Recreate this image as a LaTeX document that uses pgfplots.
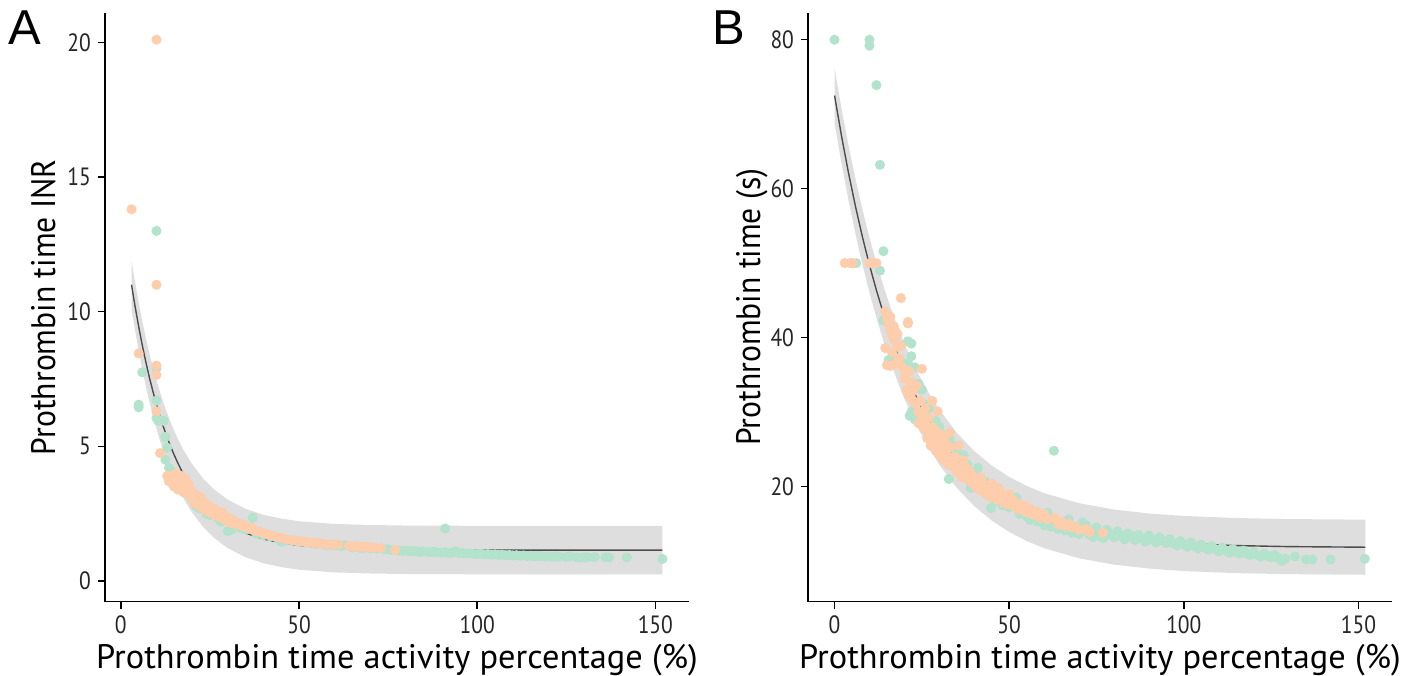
\documentclass[border=0pt]{standalone}
\usepackage{pgfplots}
\pgfplotsset{compat=1.18}
\usepackage{fontspec}
\setmainfont{PT Sans}[FakeStretch=0.86]
\newfontfamily\xtitlefont{PT Sans}[FakeStretch=1.01]
\newfontfamily\ytitlefont{PT Sans}[FakeStretch=0.93]
\newfontfamily\panelfont{Liberation Sans}
\definecolor{ptgreen}{HTML}{B3E2CD}
\definecolor{ptpeach}{HTML}{FDCDAC}
\definecolor{bandgray}{HTML}{DEDEDE}
\definecolor{fitline}{HTML}{4D4D4D}
\pgfplotsset{
  myaxis/.style={
    scale only axis, width=292pt, height=294.25pt,
    axis x line*=bottom, axis y line*=left,
    axis line style={line width=0.7pt, black},
    tick style={line width=0.7pt, black},
    tick align=outside, major tick length=3.5pt,
    xtick={0,50,100,150},
    xmin=-4.45, xmax=159.45,
    ticklabel style={font=\fontsize{12.5}{14}\selectfont, text=black!85},
    /pgf/number format/assume math mode=true,
    xlabel={Prothrombin time activity percentage (\%)},
    every axis x label/.style={at={(axis description cs:0.5,-0.113)}, anchor=base, font=\xtitlefont\fontsize{17}{20}\selectfont},
  },
  ptsg/.style={only marks, mark=*, mark size=2.3pt, color=ptgreen},
  ptsp/.style={only marks, mark=*, mark size=2.3pt, color=ptpeach},
}
\begin{document}
\begin{tikzpicture}
\path[use as bounding box] (0,0) rectangle (709.5pt,337.5pt);
% ---------------- Panel A ----------------
\begin{axis}[myaxis, at={(52.5pt,36.75pt)}, anchor=south west,
  ymin=-0.76, ymax=21.09, ytick={0,5,10,15,20},
  ylabel={Prothrombin time INR},
  every axis y label/.style={at={(axis description cs:-0.0856,0.5)}, rotate=90, anchor=base, font=\ytitlefont\fontsize{17}{20}\selectfont}]
\addplot[fill=bandgray, draw=none] coordinates {
(3,11.90)(4,11.09)(5,10.35)(6,9.66)(7,9.04)(8,8.46)(9,7.94)(10,7.45)(11,7.01)(12,6.60)(13,6.23)(14,5.88)(15,5.57)(16,5.28)(17,5.01)(18,4.77)(20,4.34)(23,3.82)(26,3.42)(30,3.02)(35,2.68)(40,2.46)(45,2.32)(50,2.22)(60,2.12)(70,2.08)(80,2.06)(100,2.05)(152,2.05)
(152,0.25)(100,0.25)(80,0.26)(70,0.28)(60,0.32)(50,0.42)(45,0.52)(40,0.66)(35,0.88)(30,1.22)(26,1.62)(23,2.02)(20,2.54)(18,2.97)(17,3.21)(16,3.48)(15,3.77)(14,4.08)(13,4.43)(12,4.80)(11,5.21)(10,5.65)(9,6.14)(8,6.66)(7,7.24)(6,7.86)(5,8.55)(4,9.29)(3,10.10)};
\addplot[fitline, line width=0.7pt] coordinates {
(3,11.00)(4,10.19)(5,9.45)(6,8.76)(7,8.14)(8,7.56)(9,7.04)(10,6.55)(11,6.11)(12,5.70)(13,5.33)(14,4.98)(15,4.67)(16,4.38)(17,4.11)(18,3.87)(20,3.44)(23,2.92)(26,2.52)(30,2.12)(35,1.78)(40,1.56)(45,1.42)(50,1.32)(60,1.22)(70,1.18)(80,1.16)(100,1.15)(152,1.15)};
\addplot[ptsg] coordinates {
(10,13.0)(6,7.75)(10,7.9)(5,6.55)(5,6.45)(10,6.7)(10,6.05)(10.5,5.95)(12,5.95)(12.5,5.35)(13,4.95)(12.5,4.5)(13.5,4.2)(14,4.1)(15,3.9)(18,3.5)(20,3.05)(21,2.8)(22,2.7)(24,2.5)(25,2.45)(27,2.35)(28,2.2)(30,1.85)(31,1.9)(32,2.0)(34,1.95)(35,1.9)(37,2.35)(38,1.75)(40,1.7)(42,1.65)(44,1.58)(45,1.45)(46,1.48)(48,1.5)(50,1.45)(52,1.43)(54,1.4)(55,1.38)(57,1.36)(58,1.33)(60,1.32)(62,1.3)(63,1.33)(65,1.25)(67,1.24)(68,1.22)(70,1.21)(72,1.2)(74,1.17)(75,1.19)(76,1.15)(78,1.14)(79,1.12)(80,1.13)(81,1.1)(82,1.12)(83,1.1)(84,1.08)(85,1.1)(86,1.08)(87,1.07)(88,1.08)(89,1.06)(90,1.05)(91,1.95)(91,1.07)(92,1.04)(93,1.05)(94,1.1)(95,1.03)(96,1.04)(97,1.02)(98,1.03)(99,1.01)(100,1.0)(101,1.02)(102,0.99)(103,1.0)(104,0.98)(105,0.99)(106,0.97)(107,0.98)(108,0.96)(109,0.97)(110,0.95)(111,0.96)(112,0.94)(113,0.95)(114,0.93)(115,0.94)(116,0.92)(117,0.93)(118,0.92)(119,0.91)(120,0.92)(121,0.9)(122,0.91)(123,0.9)(125,0.9)(126,0.91)(128,0.88)(129,0.87)(130,0.88)(131,0.88)(133,0.89)(136,0.88)(137,0.88)(142,0.88)(152,0.82)};
\addplot[ptsp] coordinates {
(10,20.1)(3,13.8)(10,11.0)(5,8.45)(10,8.0)(10,7.65)(10,6.3)(11,4.75)
(13,3.9)(13.5,3.7)(14,3.9)(14.5,3.6)(15,3.8)(15,3.5)(15.5,4.0)(16,3.7)(16,3.4)(16.5,3.6)(17,3.9)(17,3.5)(17.5,3.3)(18,3.8)(18,3.45)(18.5,3.3)(19,3.6)(19,3.2)(19.5,3.4)(20,3.1)(20,3.3)(20.5,2.9)(21,3.2)(21,3.0)(21.5,2.85)(22,3.05)(22,2.8)(22.5,3.1)(23,2.9)(23,2.7)(23.5,2.75)(24,2.6)(24,2.85)(24.5,2.7)(25,2.55)(25,2.75)(25.5,2.6)(26,2.5)(26,2.7)(26.5,2.45)(27,2.6)(27,2.4)(28,2.5)(28,2.35)(28.5,2.55)(29,2.4)(29.5,2.3)(30,2.35)(30,2.2)(31,2.3)(31,2.15)(32,2.2)(32.5,2.1)(33,2.15)(34,2.05)(34.5,2.1)(35,2.0)(36,1.95)(36.5,2.0)(37,1.9)(38,1.85)(39,1.83)(40,1.78)(41,1.74)(42,1.7)(43,1.67)(44,1.64)(45,1.6)(46,1.57)(47,1.54)(48,1.52)(49,1.5)(50,1.48)(51,1.47)(52,1.45)(53,1.44)(54,1.42)(55,1.41)(56,1.4)(57,1.38)(58,1.37)(59,1.36)(60,1.35)(61,1.36)(64,1.3)(65,1.28)(66,1.3)(67,1.27)(68,1.26)(69,1.27)(70,1.25)(71,1.24)(73,1.22)(77,1.15)};
\end{axis}
% ---------------- Panel B ----------------
\begin{axis}[myaxis, at={(404pt,36.75pt)}, anchor=south west,
  xmin=-7.6, xmax=159.6,
  ymin=4.56, ymax=83.59, ytick={20,40,60,80},
  ylabel={Prothrombin time (s)},
  every axis y label/.style={at={(axis description cs:-0.082,0.5)}, rotate=90, anchor=base, font=\ytitlefont\fontsize{17}{20}\selectfont}]
\addplot[fill=bandgray, draw=none] coordinates {
(0,76.20)(2,70.76)(4,65.80)(6,61.29)(8,57.18)(10,53.44)(12,50.03)(14,46.94)(16,44.11)(18,41.55)(20,39.21)(22,37.09)(24,35.15)(27,32.56)(30,30.32)(35,27.21)(40,24.76)(45,22.82)(50,21.29)(55,20.08)(60,19.12)(70,17.76)(80,16.91)(90,16.38)(100,16.05)(115,15.77)(130,15.63)(152,15.55)
(152,8.15)(130,8.23)(115,8.37)(100,8.65)(90,8.98)(80,9.51)(70,10.36)(60,11.72)(55,12.68)(50,13.89)(45,15.42)(40,17.36)(35,19.81)(30,22.92)(27,25.16)(24,27.75)(22,29.69)(20,31.81)(18,34.15)(16,36.71)(14,39.54)(12,42.63)(10,46.04)(8,49.78)(6,53.89)(4,58.40)(2,63.36)(0,68.80)};
\addplot[fitline, line width=0.7pt] coordinates {
(0,72.50)(2,67.06)(4,62.10)(6,57.59)(8,53.48)(10,49.74)(12,46.33)(14,43.24)(16,40.41)(18,37.85)(20,35.51)(22,33.39)(24,31.45)(27,28.86)(30,26.62)(35,23.51)(40,21.06)(45,19.12)(50,17.59)(55,16.38)(60,15.42)(70,14.06)(80,13.21)(90,12.68)(100,12.35)(115,12.07)(130,11.93)(152,11.85)};
\addplot[ptsg] coordinates {
(0,80)(10,80)(10,79.2)(12,73.9)(13,63.2)(14,51.6)(13,49)(6.2,50)(62.8,24.8)
(14,42.3)(15.5,37)(17,37.5)(19,36.8)(21,39.5)(22,39.2)(22,37.5)(21,36.5)(23,36)(24,33.8)(25,33)(22,30)(21.5,29.5)(23,29)(26,31)(27,30.5)(28,28)(29,28.8)(30,28)(31,27)(32,24.5)(32.7,21.0)(33,26.5)(34,25.5)(35,24.8)(36,23.8)(37,24.2)(38,23)(39,19.8)(40,21.8)(41,22.5)(42,19.5)(43,20.7)(44,18.8)(44.8,17.1)(46,18)(47,19.5)(48,17.5)(50,17.2)(52,18.5)(53,16.3)(55,16)(56,15.5)(58,15.3)(60,14.8)(61,16.5)(62,14.6)(63,15.5)(64,14.3)(66,14.1)(67,15.6)(68,13.8)(70,13.6)(71,15.2)(72,14.8)(73,13.5)(74,13.2)(75,14.5)(76,13.3)(77,13.1)(78,14.2)(79,13.6)(80,13.2)(81,14.0)(82,13.4)(83,12.9)(84,13.7)(85,13.3)(86,12.8)(87,13.5)(88,13.0)(89,12.6)(90,13.4)(91,12.9)(92,12.5)(93,13.2)(94,12.7)(95,12.4)(96,12.9)(97,12.4)(98,12.1)(99,12.7)(100,12.2)(101,11.9)(102,12.5)(103,12.0)(104,11.7)(105,12.2)(106,11.8)(107,11.5)(108,12.0)(109,11.6)(110,11.3)(111,11.8)(112,11.4)(113,11.1)(114,11.6)(115,11.2)(116,11.0)(117,11.4)(118,11.0)(119,10.8)(120,11.2)(121,10.8)(122,10.6)(123,11.0)(124,10.7)(125,10.5)(126,10.8)(127,10.4)(128,10.0)(129,10.3)(131.8,10.6)(135,10.2)(136.8,10.2)(142,10.2)(151.8,10.3)};
\addplot[ptsp] coordinates {
(2.9,50)(4.5,50)(5.2,50)(10,50)(11,50)(12,50)(19,45.3)(21,41.9)(21,42.1)
(14.5,43.5)(15,42.5)(15.5,41.8)(16,42.8)(16,41)(16.5,40.3)(17,41.5)(17,39.8)(17.5,40.8)(18,40.5)(18,38.8)(14.5,38.6)(15,36.3)(16,36.2)(16.5,38)(17.5,36.5)(18.5,37.2)(19,38.9)(19.5,36)(20,35.6)(20,34.5)(20.5,33)(21,32.4)(21.5,35.5)(22,31.8)(22,34)(22.5,32.8)(23,31.2)(23.5,33.5)(24,30)(24,28.5)(24.5,31.5)(25,35.8)(25,29.5)(25.5,27.8)(26,30.5)(26,28.3)(26.5,26.5)(27,29.2)(27,27)(27.5,25.5)(28,28)(28,31.5)(28.5,26.3)(29,27.5)(29,24.8)(29.5,30.1)(30,25.8)(30,24.3)(30.5,27)(31,25)(31,23.6)(31.5,26.2)(32,24.4)(32.5,23)(33,25.3)(33,27.2)(33.5,22.8)(34,24)(34.5,22.5)(35,23.8)(35,21.9)(35.5,25.5)(36,22.6)(36.5,21.2)(37,23.5)(37.5,21.6)(38,22.4)(38.5,20.8)(39,21.8)(39.5,20.4)(40,21.3)(40.5,19.9)(41,20.8)(41.5,19.6)(42,21.2)(42.5,19.3)(43,20.2)(43.5,19)(44,19.8)(44.5,18.6)(45,20.4)(45.5,18.7)(46,19.3)(46.5,18.2)(47,19.8)(47.5,18.4)(48,18.9)(48.5,17.8)(49,18.5)(49.5,17.6)(50,19.0)(50.5,17.8)(51,18.2)(51.5,17.3)(52,17.8)(52.5,17.0)(53,17.6)(54,16.8)(54.5,17.4)(55,16.5)(56,17.0)(57,16.2)(58,16.6)(59,15.8)(60,16.3)(61,15.6)(63,15.8)(64,14.9)(65,15.3)(66,14.7)(67,15.0)(68,14.5)(69,14.6)(70,14.2)(72,14.3)(73,13.9)(76.8,13.8)};
\end{axis}
\node[anchor=base west, inner sep=0pt, font=\panelfont\fontsize{24.5}{28}\selectfont] at (4pt,315pt) {A};
\node[anchor=base west, inner sep=0pt, font=\panelfont\fontsize{24.5}{28}\selectfont] at (356pt,315pt) {B};
\end{tikzpicture}
\end{document}
